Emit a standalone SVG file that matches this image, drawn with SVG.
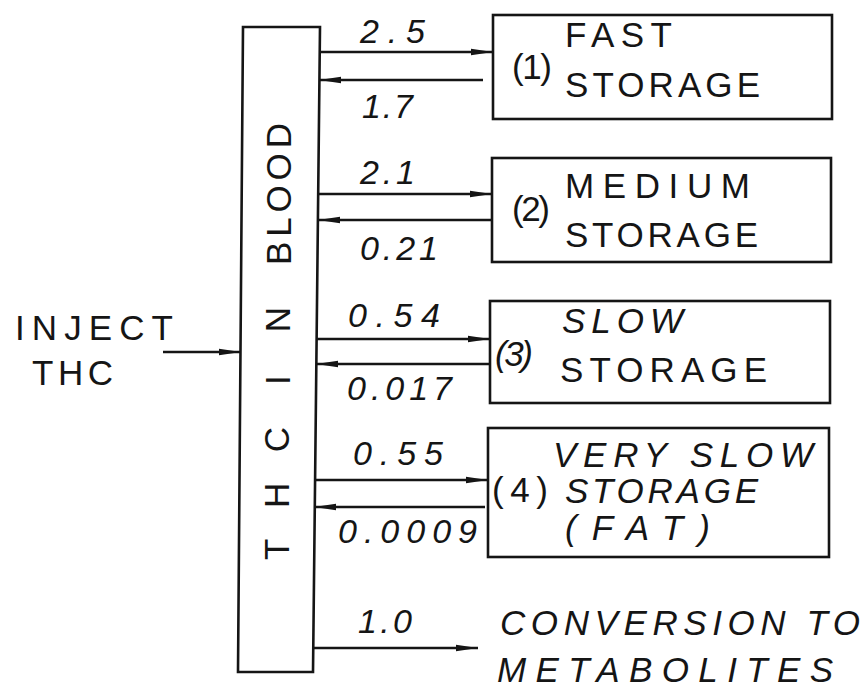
<svg xmlns="http://www.w3.org/2000/svg" width="866" height="688" viewBox="0 0 866 688">
<style>
.ln{fill:none;stroke:#151515;stroke-width:2.6}
.t{font-family:"Liberation Sans",Arial,sans-serif;fill:#151515;font-size:35px}
.i{font-style:italic}
.n{font-family:"Liberation Sans",Arial,sans-serif;fill:#151515;font-size:34px;font-style:italic}
.a{fill:none;stroke:#151515;stroke-width:2.6;marker-end:url(#ah)}
</style>
<defs>
<marker id="ah" viewBox="0 0 22 8" refX="22" refY="4" markerWidth="22" markerHeight="8" markerUnits="userSpaceOnUse" orient="auto">
<path d="M0,0.8 L22,4 L0,7.2 z" fill="#151515"/>
</marker>
</defs>
<rect width="866" height="688" fill="#ffffff"/>

<g id="blood">
<polygon class="ln" points="243,27 320,27 313,672 238,672"/>
<text class="t" transform="translate(291,265) rotate(-90)" font-size="36" textLength="142" lengthAdjust="spacing">BLOOD</text>
<text class="t" transform="translate(290,385) rotate(-90)" font-size="36" textLength="78" lengthAdjust="spacing">IN</text>
<text class="t" transform="translate(289,560) rotate(-90)" font-size="36" textLength="133" lengthAdjust="spacing">THC</text>
</g>

<g id="inject">
<text class="t" x="15" y="340" font-size="38" textLength="158" lengthAdjust="spacing">INJECT</text>
<text class="t" x="32" y="385" font-size="38" textLength="81" lengthAdjust="spacing">THC</text>
</g>

<g id="box1">
<rect class="ln" x="493" y="15" width="339" height="104"/>
<text class="t" x="512" y="79" font-size="29" textLength="40" lengthAdjust="spacing">(1)</text>
<text class="t" x="565" y="47" textLength="107" lengthAdjust="spacing">FAST</text>
<text class="t" x="565" y="97" textLength="195" lengthAdjust="spacing">STORAGE</text>
</g>

<g id="box2">
<rect class="ln" x="492" y="158" width="339" height="104"/>
<text class="t" x="512" y="221" font-size="29" textLength="38" lengthAdjust="spacing">(2)</text>
<text class="t" x="565" y="198" textLength="185" lengthAdjust="spacing">MEDIUM</text>
<text class="t" x="565" y="247" textLength="193" lengthAdjust="spacing">STORAGE</text>
</g>

<g id="box3">
<rect class="ln" x="490" y="301" width="340" height="102"/>
<text class="t i" x="495" y="366" font-size="29" textLength="38" lengthAdjust="spacing">(3)</text>
<text class="t i" x="562" y="333" textLength="121" lengthAdjust="spacing">SLOW</text>
<text class="t" x="560" y="382" textLength="207" lengthAdjust="spacing">STORAGE</text>
</g>

<g id="box4">
<rect class="ln" x="488" y="428" width="341" height="129"/>
<text class="t" x="492" y="502" font-size="30" textLength="56" lengthAdjust="spacing">(4)</text>
<text class="t i" x="553" y="467" textLength="260" lengthAdjust="spacing">VERY SLOW</text>
<text class="t i" x="565" y="503" font-size="32" textLength="193" lengthAdjust="spacing">STORAGE</text>
<text class="t i" x="565" y="540" font-size="32" textLength="145" lengthAdjust="spacing">(FAT)</text>
</g>

<g id="metabolites">
<text class="t i" x="500" y="635" font-size="37" textLength="360" lengthAdjust="spacing">CONVERSION TO</text>
<text class="t i" x="497" y="682" font-size="37" textLength="336" lengthAdjust="spacing">METABOLITES</text>
</g>

<g id="connectors">
<line class="a" x1="163" y1="352" x2="241" y2="352"/>
<line class="a" x1="320" y1="52" x2="493" y2="52"/>
<line class="a" x1="483" y1="80" x2="319" y2="80"/>
<line class="a" x1="318" y1="194" x2="492" y2="194"/>
<line class="a" x1="492" y1="220" x2="318" y2="220"/>
<line class="a" x1="317" y1="339" x2="490" y2="339"/>
<line class="a" x1="490" y1="364" x2="316" y2="364"/>
<line class="a" x1="315" y1="480" x2="488" y2="480"/>
<line class="a" x1="485" y1="507" x2="314" y2="507"/>
<line class="a" x1="313" y1="648" x2="478" y2="648"/>
</g>

<g id="labels">
<text class="n" x="360" y="43" textLength="65" lengthAdjust="spacing">2.5</text>
<text class="n" x="362" y="118" textLength="51" lengthAdjust="spacing">1.7</text>
<text class="n" x="360" y="184" textLength="55" lengthAdjust="spacing">2.1</text>
<text class="n" x="360" y="260" textLength="78" lengthAdjust="spacing">0.21</text>
<text class="n" x="348" y="327" textLength="92" lengthAdjust="spacing">0.54</text>
<text class="n" x="347" y="400" textLength="105" lengthAdjust="spacing">0.017</text>
<text class="n" x="353" y="465" textLength="90" lengthAdjust="spacing">0.55</text>
<text class="n" x="338" y="543" textLength="139" lengthAdjust="spacing">0.0009</text>
<text class="n" x="358" y="633" textLength="54" lengthAdjust="spacing">1.0</text>
</g>
</svg>
